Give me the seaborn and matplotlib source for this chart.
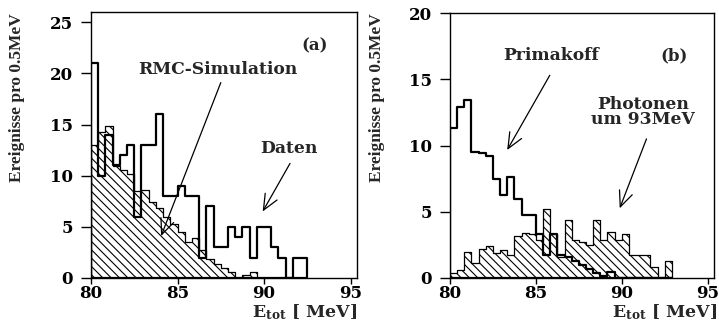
import numpy as np
import pandas as pd
import seaborn as sns
import matplotlib.pyplot as plt
from matplotlib.patches import ArrowStyle

sns.set_theme(style="ticks")
plt.rcParams.update({
    "font.family": ["DejaVu Serif"],
    "font.weight": "bold",
    "mathtext.fontset": "dejavuserif",
    "hatch.linewidth": 0.8,
    "hatch.color": "black",
    "axes.linewidth": 1.0,
    "axes.edgecolor": "black",
    "xtick.color": "black",
    "ytick.color": "black",
    "xtick.labelsize": 12,
    "ytick.labelsize": 12,
})

# Histogram binning (energy axis in MeV)
E_START = 80.0
BIN_WIDTH = 5 / 12

# Panel (a): RMC simulation (hatched) and measured data (outline)
rmc_sim = [13.0, 14.3, 14.9, 10.9, 10.6, 10.2, 8.5, 8.6, 7.4, 6.8,
           6.0, 5.3, 4.5, 3.5, 3.9, 2.7, 1.9, 1.4, 1.0, 0.6,
           0.0, 0.25, 0.55, 0.0, 0.0, 0.0, 0.0, 0.0, 0.0, 0.0]
daten = [21, 10, 14, 11, 12, 13, 6, 13, 13, 16,
         8, 8, 9, 8, 8, 2, 7, 3, 3, 5,
         4, 5, 2, 5, 5, 3, 2, 0, 2, 2]

# Panel (b): Primakoff simulation (outline) and 93 MeV photons (hatched)
primakoff = [11.3, 12.9, 13.4, 9.5, 9.4, 9.2, 7.5, 6.3, 7.65, 6.0,
             4.75, 4.75, 3.3, 1.7, 3.3, 1.7, 1.6, 1.3, 1.0, 0.7,
             0.4, 0.15, 0.45, 0.0, 0.0, 0.0, 0.0, 0.0, 0.0, 0.0, 0.0]
photonen = [0.35, 0.6, 2.0, 1.1, 2.2, 2.4, 1.9, 2.1, 1.7, 3.2,
            3.4, 3.3, 2.9, 5.2, 3.3, 1.6, 4.4, 2.9, 2.7, 2.5,
            4.4, 2.9, 3.5, 2.9, 3.3, 1.7, 1.7, 1.7, 0.8, 0.0, 1.25]

x_ticks = [80, 85, 90, 95]
y_ticks_a = [0, 5, 10, 15, 20, 25]
y_ticks_b = [0, 5, 10, 15, 20]


def hist_frame(values):
    centers = E_START + BIN_WIDTH * (np.arange(len(values)) + 0.5)
    return pd.DataFrame({"E": centers, "n": values})


def draw_hist(ax, values, hatched, lw):
    df = hist_frame(values)
    brange = (E_START, E_START + BIN_WIDTH * len(values))
    kws = dict(data=df, x="E", weights="n", binwidth=BIN_WIDTH, binrange=brange,
               element="step", fill=True, ax=ax, linewidth=lw, color="black",
               edgecolor="black")
    if hatched:
        sns.histplot(facecolor=(1, 1, 1, 1), hatch="\\\\\\\\", zorder=2, **kws)
    else:
        sns.histplot(facecolor=(1, 1, 1, 0), zorder=3, **kws)


def style_axes(ax, ymax, yticks):
    ax.set_xlim(80, 95.37)
    ax.set_ylim(0, ymax)
    ax.set_xticks(x_ticks)
    ax.set_yticks(yticks)
    ax.set_xlabel("")
    ax.set_ylabel("")
    ax.tick_params(axis="y", length=7, width=1.0, pad=6)
    ax.tick_params(axis="x", length=4, width=1.0, pad=1)
    for s in ax.spines.values():
        s.set_visible(True)
        s.set_linewidth(1.0)
        s.set_color("black")


def arrow(ax, start, tip):
    ax.annotate("", xy=tip, xytext=start,
                arrowprops=dict(arrowstyle=ArrowStyle("->", head_length=0.8, head_width=0.35),
                                mutation_scale=14, lw=0.9, color="black",
                                shrinkA=0, shrinkB=0), zorder=5)


fig = plt.figure(figsize=(7.19, 3.21), dpi=100)
ax_a = fig.add_axes([91 / 719, 43 / 321, 266 / 719, 266 / 321])
ax_b = fig.add_axes([450 / 719, 43 / 321, 264 / 719, 265 / 321])

# Panel (a)
draw_hist(ax_a, rmc_sim, hatched=True, lw=0.9)
draw_hist(ax_a, daten, hatched=False, lw=1.6)
style_axes(ax_a, 26, y_ticks_a)
ax_a.text(0.84, 0.874, "(a)", transform=ax_a.transAxes, ha="center", va="center",
          fontsize=12, fontweight="bold")
ax_a.text(87.34, 20.4, "RMC-Simulation", ha="center", va="center",
          fontsize=12.3, fontweight="bold")
arrow(ax_a, (87.5, 19.1), (84.05, 4.1))
ax_a.text(91.45, 12.62, "Daten", ha="center", va="center",
          fontsize=12.3, fontweight="bold")
arrow(ax_a, (91.5, 11.2), (89.92, 6.5))

# Panel (b)
draw_hist(ax_b, photonen, hatched=True, lw=0.9)
draw_hist(ax_b, primakoff, hatched=False, lw=1.6)
style_axes(ax_b, 20, y_ticks_b)
ax_b.text(0.847, 0.84, "(b)", transform=ax_b.transAxes, ha="center", va="center",
          fontsize=12, fontweight="bold")
ax_b.text(85.87, 16.83, "Primakoff", ha="center", va="center",
          fontsize=12.3, fontweight="bold")
arrow(ax_b, (85.81, 15.3), (83.33, 9.66))
ax_b.text(91.22, 12.5, "Photonen\num 93MeV", ha="center", va="center",
          fontsize=12.3, fontweight="bold", linespacing=0.85)
arrow(ax_b, (91.44, 10.5), (89.88, 5.26))

# Axis titles
ylab = "Ereignisse pro 0.5MeV"
for xpos in (17 / 719, 377 / 719):
    fig.text(xpos, 1 - 98 / 321, ylab, rotation=90, ha="center", va="center",
             fontsize=12.5, fontweight="bold", family="Liberation Serif")
xlab = r"$\mathbf{E}_{\mathbf{tot}}$ [ MeV]"
fig.text(357 / 719, 4 / 321, xlab, ha="right", va="baseline", fontsize=12.5,
         fontweight="bold")
fig.text(717 / 719, 4 / 321, xlab, ha="right", va="baseline", fontsize=12.5,
         fontweight="bold")

fig.savefig("out.png", dpi=100)
